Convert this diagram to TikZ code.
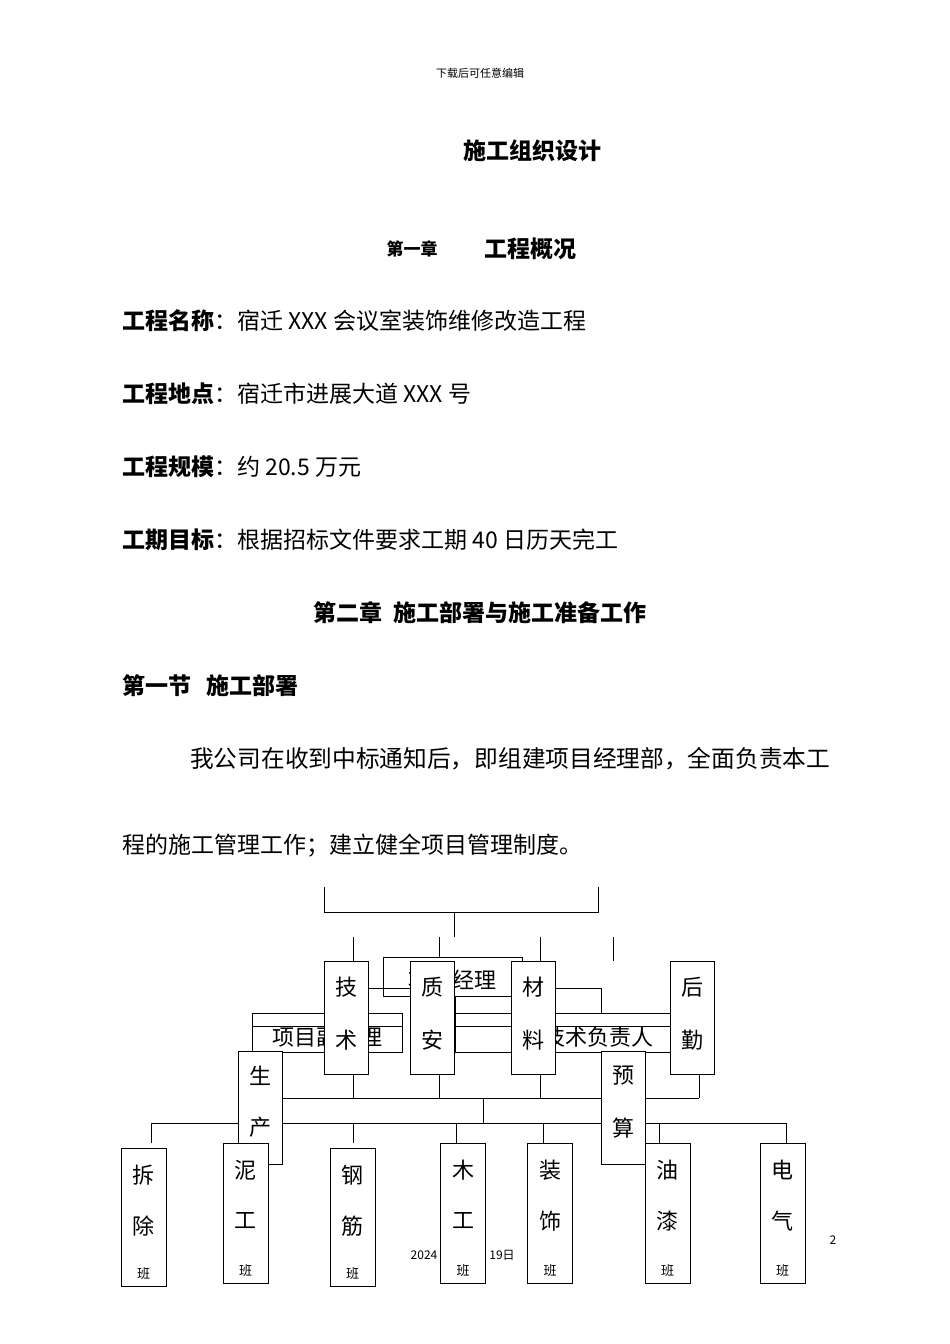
\documentclass[tikz,border=0pt]{standalone}
\usepackage{fontspec}
\setmainfont{Noto Sans CJK SC}
\begin{document}
\begin{tikzpicture}[x=1pt,y=-1pt,
  txt/.style={inner sep=0pt,font=\fontsize{23}{26}\selectfont},
  btxt/.style={inner sep=0pt,font=\fontsize{23}{26}\selectfont\bfseries},
  bx/.style={draw,fill=white,line width=0.9pt},
  ln/.style={line width=0.9pt},
  ch/.style={inner sep=0pt,font=\fontsize{22}{24}\selectfont}]
\useasboundingbox (0,0) rectangle (950,1344);
% header text
\node[inner sep=0pt,font=\fontsize{11}{13}\selectfont] (hd) at (480,73) {下载后可任意编辑};
\node[btxt] (title) at (532,151) {施工组织设计};
\node[inner sep=0pt,font=\fontsize{17}{20}\selectfont\bfseries] (c1a) at (412,249) {第一章};
\node[btxt] (c1b) at (530,249) {工程概况};
\node[txt,anchor=west] (l1) at (122,321) {\textbf{工程名称}：宿迁 XXX 会议室装饰维修改造工程};
\node[txt,anchor=west] (l2) at (122,394) {\textbf{工程地点}：宿迁市进展大道 XXX 号};
\node[txt,anchor=west] (l3) at (122,467) {\textbf{工程规模}：约 20.5 万元};
\node[txt,anchor=west] (l4) at (122,540) {\textbf{工期目标}：根据招标文件要求工期 40 日历天完工};
\node[btxt] (c2) at (480,613) {第二章\ \ 施工部署与施工准备工作};
\node[btxt,anchor=west] (s1) at (122,686) {第一节\ \ \ 施工部署};
\node[txt,anchor=west,font=\fontsize{23.7}{26}\selectfont] (p1) at (190,759) {我公司在收到中标通知后，即组建项目经理部，全面负责本工};
\node[txt,anchor=west] (p2) at (122,846) {程的施工管理工作；建立健全项目管理制度。};
% chart lines
\coordinate (bl) at (324,887); \coordinate (br) at (598,887);
\draw[ln] (bl) -- (324,912) -- (598,912) -- (br);
\draw[ln] (454,912) -- (454,937);
\foreach \x in {353,439,540} \draw[ln] (\x,937) -- (\x,961);
\draw[ln] (613,937) -- (613,961);
% back boxes
\node[bx,minimum width=139pt,minimum height=39pt,inner sep=0pt] (pm) at (452.5,976.5) {};
\node[ch] (pmt) at (452,980) {项目经理};
\draw[ln] (368,988) -- (410,988);
\draw[ln] (556,988) -- (601,988) -- (601,1013);
\draw[ln] (455,996) -- (455,1019);
\node[bx,minimum width=150pt,minimum height=39pt,inner sep=0pt] (vpm) at (327,1032.5) {};
\draw[ln] (vpm.west |- 0,1026) -- (vpm.east |- 0,1026);
\node[ch] (vpmt) at (327,1037) {项目副经理};
\node[bx,minimum width=235pt,minimum height=39pt,inner sep=0pt] (te) at (572.5,1032.5) {};
\draw[ln] (te.west |- 0,1026) -- (te.east |- 0,1026);
\node[ch] (tet) at (598,1037) {技术负责人};
% bus lines
\draw[ln] (252,1052) -- (252,1098) -- (699,1098);
\foreach \x in {353,439,540,699} \draw[ln] (\x,1074) -- (\x,1098);
\draw[ln] (613,1060) -- (613,1098);
\draw[ln] (483,1098) -- (483,1123);
\draw[ln] (151,1123) -- (786,1123);
\foreach \x in {151,353,456,543,659,786} \draw[ln] (\x,1123) -- (\x,1143);
% 生产 and 预算 boxes
\draw[ln,fill=white] (238,1143) -- (238,1051) -- (282,1051) -- (282,1164) -- (268,1164);
\node[ch] (sc1) at (260,1076) {生};
\node[ch] (sc2) at (260,1127) {产};
\draw[ln,fill=white] (645,1143) -- (645,1051) -- (601,1051) -- (601,1164) -- (645,1164);
\node[ch] (ys1) at (623,1076) {预};
\node[ch] (ys2) at (623,1128) {算};
% column boxes
\foreach \n/\x/\a/\b in {js/346/技/术, zl/432.5/质/安, cl/533.5/材/料, hq/692/后/勤}{
  \node[bx,minimum width=44pt,minimum height=113pt,inner sep=0pt] (\n) at (\x,1017.5) {};
  \node[ch] (\n a) at (\x,987) {\a};
  \node[ch] (\n b) at (\x,1040) {\b};
}
% bottom boxes
\foreach \n/\x/\t/\bt/\a/\b in {cc/143.5/1148/1286/拆/除, nw/245.5/1143/1283/泥/工, gj/352.5/1148/1286/钢/筋, mg/463/1143/1283/木/工, zs/550/1143/1283/装/饰, yq/667.5/1143/1283/油/漆, dq/782.5/1143/1283/电/气}{
  \draw[ln,fill=white] (\x-22.5,\t) rectangle (\x+22.5,\bt);
  \node[ch] (\n a) at (\x,\t+27) {\a};
  \node[ch] (\n b) at (\x,\t+78) {\b};
  \node[inner sep=0pt,font=\fontsize{13}{14}\selectfont] (\n c) at (\x,\bt-12) {班};
}
\node[inner sep=0pt,font=\fontsize{12}{14}\selectfont] (ft1) at (424,1255) {2024};
\node[inner sep=0pt,font=\fontsize{12}{14}\selectfont] (ft2) at (502,1255) {19日};
\node[inner sep=0pt,font=\fontsize{12}{14}\selectfont] (pg) at (833,1240) {2};
\end{tikzpicture}
\end{document}
